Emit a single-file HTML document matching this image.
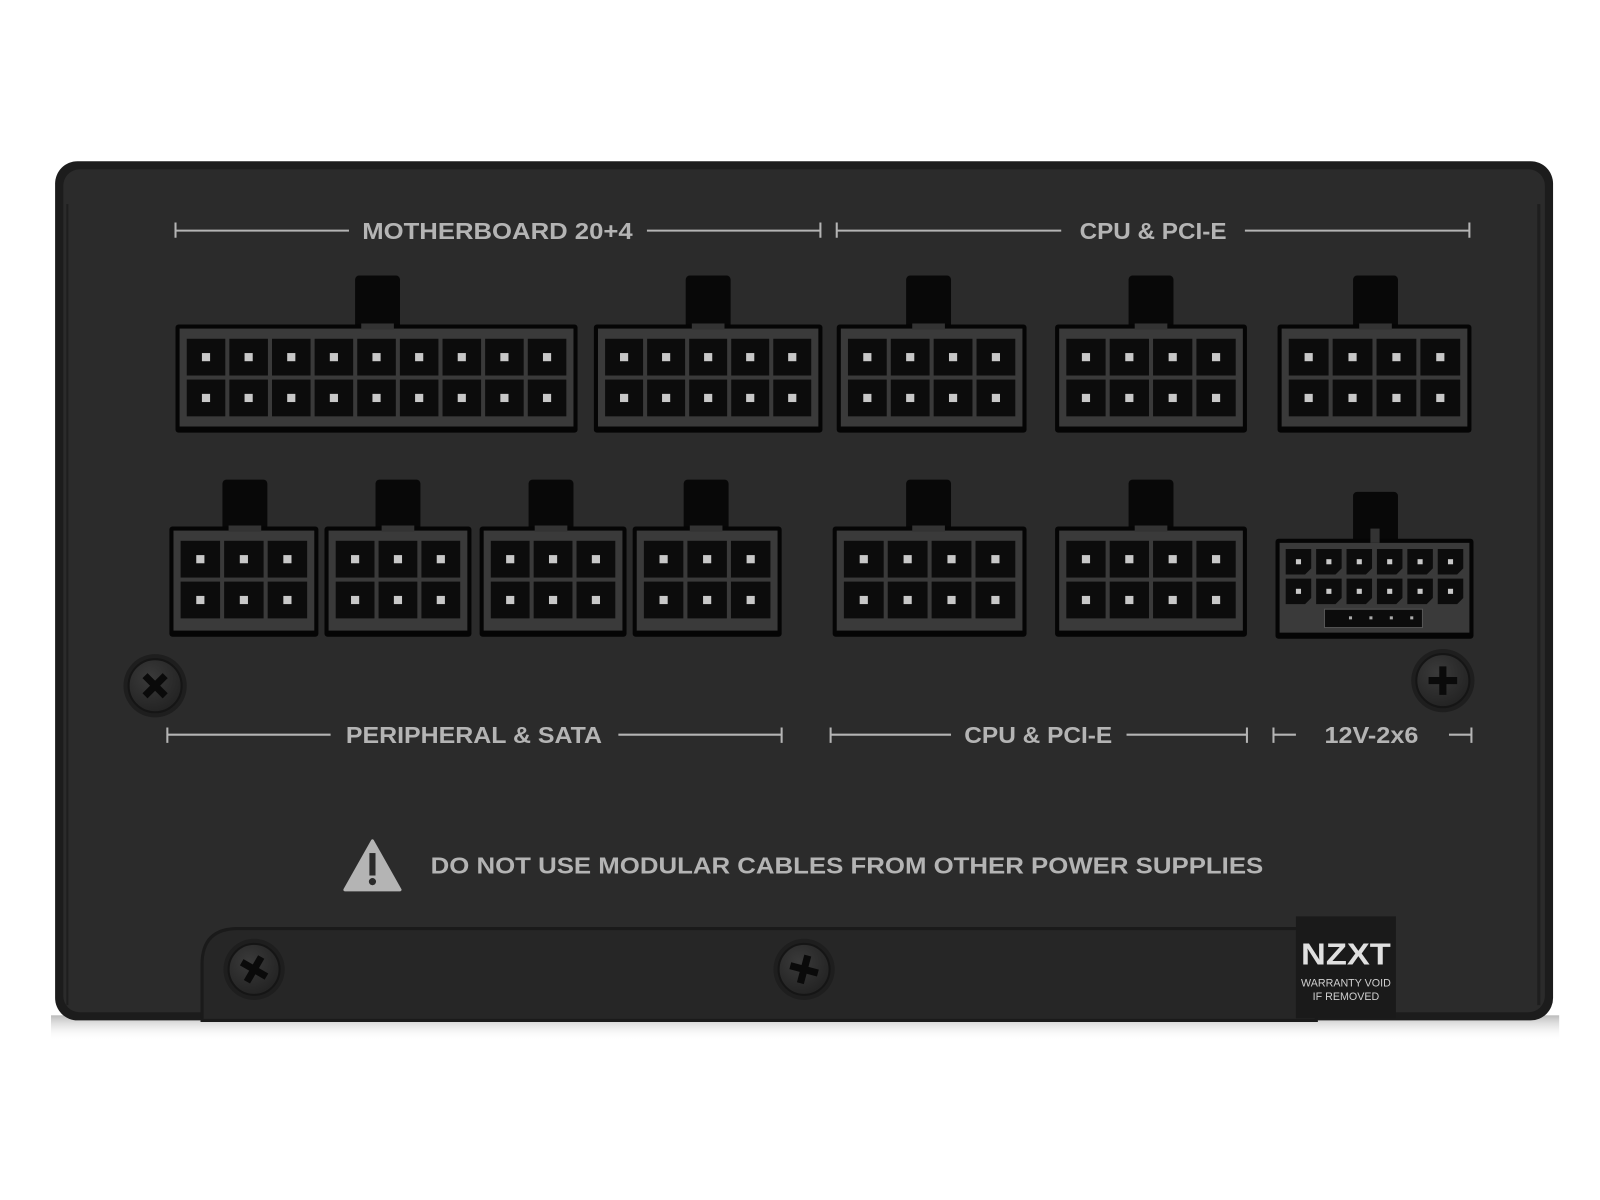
<!DOCTYPE html>
<html><head><meta charset="utf-8"><style>
html,body{margin:0;padding:0;background:#fff;width:1600px;height:1200px;overflow:hidden}
svg{display:block}
text{font-family:"Liberation Sans",sans-serif}
</style></head><body>
<svg width="1600" height="1200" viewBox="0 0 1568 1176" xmlns="http://www.w3.org/2000/svg">
<defs>
<linearGradient id="sh" x1="0" y1="0" x2="0" y2="1"><stop offset="0" stop-color="#bbb"/><stop offset="1" stop-color="#fff" stop-opacity="0"/></linearGradient>
<radialGradient id="scr" cx="0.4" cy="0.35" r="0.7"><stop offset="0" stop-color="#3a3a3a"/><stop offset="1" stop-color="#222"/></radialGradient>
</defs>
<rect x="50" y="995" width="1478" height="25" fill="url(#sh)"/>
<rect x="54" y="158" width="1468" height="842" rx="22" fill="#1c1c1c"/>
<rect x="62" y="166" width="1452" height="826" rx="16" fill="#2b2b2b"/>
<line x1="1508" y1="200" x2="1508" y2="985" stroke="#1e1e1e" stroke-width="3"/>
<line x1="66" y1="200" x2="66" y2="985" stroke="#1e1e1e" stroke-width="2"/>
<g stroke="#b4b4b4" stroke-width="2" fill="none">
<path d="M172 218v15M172 226H342M634 226H804M804 218v15"/>
<path d="M820 218v15M820 226H1040M1220 226H1440M1440 218v15"/>
<path d="M164 713v15M164 720H324M606 720H766M766 713v15"/>
<path d="M814 713v15M814 720H932M1104 720H1222M1222 713v15"/>
<path d="M1248 713v15M1248 720H1270M1420 720H1442M1442 713v15"/>
</g>
<g fill="#b4b4b4" font-size="23" font-weight="bold">
<text x="355" y="234" textLength="265" lengthAdjust="spacingAndGlyphs">MOTHERBOARD 20+4</text>
<text x="1058" y="234" textLength="144" lengthAdjust="spacingAndGlyphs">CPU &amp; PCI-E</text>
<text x="339" y="728" textLength="251" lengthAdjust="spacingAndGlyphs">PERIPHERAL &amp; SATA</text>
<text x="945" y="728" textLength="145" lengthAdjust="spacingAndGlyphs">CPU &amp; PCI-E</text>
<text x="1298" y="728" textLength="92" lengthAdjust="spacingAndGlyphs">12V-2x6</text>
</g>
<g id="conns"></g>
<path d="M365 824 L392 872 L338 872 Z" fill="#b4b4b4" stroke="#b4b4b4" stroke-width="3" stroke-linejoin="round"/>
<rect x="362" y="836" width="6" height="22" fill="#2b2b2b"/>
<circle cx="365" cy="864" r="3.5" fill="#2b2b2b"/>
<text x="422" y="856" fill="#b4b4b4" font-size="23" font-weight="bold" textLength="816" lengthAdjust="spacingAndGlyphs">DO NOT USE MODULAR CABLES FROM OTHER POWER SUPPLIES</text>
<path d="M198 1000 V945 Q198 910 233 910 H1290 V1000 Z" fill="#262626" stroke="#1a1a1a" stroke-width="3"/>
<rect x="1270" y="898" width="98" height="100" fill="#1a1a1a"/>
<text x="1275" y="945" fill="#e0e0e0" font-size="30" font-weight="bold" textLength="88" lengthAdjust="spacingAndGlyphs">NZXT</text>
<text x="1319" y="967" fill="#cfcfcf" font-size="10.5" text-anchor="middle" font-family="Liberation Mono,monospace">WARRANTY VOID</text>
<text x="1319" y="980" fill="#cfcfcf" font-size="10.5" text-anchor="middle" font-family="Liberation Mono,monospace">IF REMOVED</text>
<g id="screws"></g>
</svg>
<script>
var ns="http://www.w3.org/2000/svg",g=document.getElementById("conns");
function el(t,a,p){var e=document.createElementNS(ns,t);for(var k in a)e.setAttribute(k,a[k]);(p||g).appendChild(e);return e;}
function conn(x1,x2,y1,y2,cols,lx,ly){
 el("rect",{x:lx,y:ly,width:44,height:y1-ly+6,rx:4,fill:"#080808"});
 el("rect",{x:x1,y:y1,width:x2-x1,height:y2-y1,rx:3,fill:"#050505"});
 el("rect",{x:x1+4,y:y1+4,width:x2-x1-8,height:y2-y1-10,fill:"#3a3a3a"});
 el("rect",{x:lx+6,y:y1-1,width:32,height:6,fill:"#333"});
 var iw=(x2-x1-18),pitch=iw/cols,cy=[y1+32,y1+72];
 for(var c=0;c<cols;c++)for(var r=0;r<2;r++){
  var cx=x1+9+pitch*(c+.5);
  el("rect",{x:cx-pitch/2+2,y:cy[r]-18,width:pitch-4,height:36,fill:"#0c0c0c"});
  el("rect",{x:cx-4,y:cy[r]-4,width:8,height:8,fill:"#c8c8c8"});
 }
}
conn(172,566,318,424,9,348,270);
conn(582,806,318,424,5,672,270);
conn(820,1006,318,424,4,888,270);
conn(1034,1222,318,424,4,1106,270);
conn(1252,1442,318,424,4,1326,270);
conn(166,312,516,624,3,218,470);
conn(318,462,516,624,3,368,470);
conn(470,614,516,624,3,518,470);
conn(620,766,516,624,3,670,470);
conn(816,1006,516,624,4,888,470);
conn(1034,1222,516,624,4,1106,470);
el("rect",{x:1326,y:482,width:44,height:50,rx:4,fill:"#080808"});
el("rect",{x:1250,y:528,width:194,height:98,rx:3,fill:"#050505"});
el("rect",{x:1254,y:532,width:186,height:88,fill:"#3a3a3a"});
el("rect",{x:1343,y:518,width:9,height:14,fill:"#333"});
for(var c=0;c<6;c++)for(var r=0;r<2;r++){var x=1260+c*29.8,y=538+r*29;
 el("path",{d:"M"+x+" "+y+"h25v19l-6 6h-19z",fill:"#0c0c0c"});
 el("rect",{x:x+10,y:y+10,width:5,height:5,fill:"#c8c8c8"});}
el("rect",{x:1298,y:597,width:96,height:18,fill:"#0c0c0c",stroke:"#555","stroke-width":1});
for(var i=0;i<4;i++)el("rect",{x:1322+i*20,y:604,width:3,height:3,fill:"#aaa"});
var s=document.getElementById("screws");
[[152,672,31,45],[1414,667,31,0],[249,950,30,30],[788,950,30,15]].forEach(function(p){
 el("circle",{cx:p[0],cy:p[1],r:p[2],fill:"#1e1e1e"},s);
 el("circle",{cx:p[0],cy:p[1],r:p[2]-5,fill:"url(#scr)",stroke:"#151515","stroke-width":2},s);
 el("path",{d:"M"+(p[0]-14)+" "+p[1]+"h28M"+p[0]+" "+(p[1]-14)+"v28",stroke:"#0a0a0a","stroke-width":7,transform:"rotate("+p[3]+" "+p[0]+" "+p[1]+")"},s);
});
</script>
</body></html>
